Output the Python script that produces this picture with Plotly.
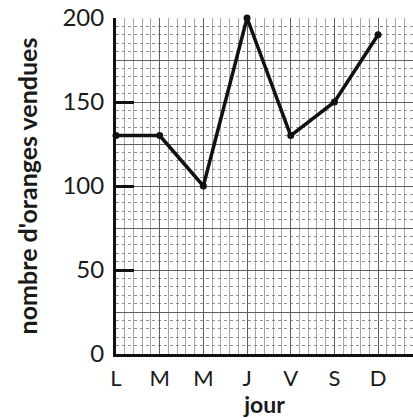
import plotly.graph_objects as go

# Oranges sold per day of the week
jours = ["L", "M", "M", "J", "V", "S", "D"]
ventes = [130, 130, 100, 200, 130, 150, 190]
y_ticks = [0, 50, 100, 150, 200]

positions = list(range(len(jours)))
FONT = "Lato"

fig = go.Figure()
# empty trace so the overlaid grid axis gets drawn
fig.add_trace(go.Scatter(x=[], y=[], yaxis="y2", showlegend=False, hoverinfo="skip"))
fig.add_trace(go.Scatter(
    x=positions, y=ventes, mode="lines+markers",
    line=dict(color="#111111", width=3.5),
    marker=dict(color="#111111", size=7),
    cliponaxis=False, showlegend=False,
))

fig.update_layout(
    width=413, height=418,
    margin=dict(l=116, r=0, t=18, b=64),
    paper_bgcolor="white", plot_bgcolor="white",
    font=dict(family=FONT, color="#1a1a1a"),
    xaxis=dict(
        range=[0, 6.8], tickvals=positions, ticktext=jours,
        tickfont=dict(size=22, family=FONT), ticks="", ticklabelstandoff=3,
        showline=True, linecolor="#111111", linewidth=3,
        showgrid=True, gridcolor="#5e5e5e", gridwidth=1.4,
        minor=dict(dtick=0.2, showgrid=True, gridcolor="#a8a8a8", gridwidth=1),
        zeroline=False,
        title=dict(text="<b>jour</b>", font=dict(size=23, family=FONT), standoff=8),
    ),
    yaxis=dict(
        range=[0, 200], tickvals=y_ticks,
        tickfont=dict(size=24, family=FONT), ticks="inside", ticklen=18,
        tickwidth=2.5, tickcolor="#111111", ticklabelstandoff=4,
        showline=True, linecolor="#111111", linewidth=3,
        showgrid=False, zeroline=False,
        title=dict(text="<b>nombre d'oranges vendues</b>",
                   font=dict(size=25, family=FONT), standoff=18),
    ),
    yaxis2=dict(
        overlaying="y", range=[0, 200], dtick=25,
        showticklabels=False, ticks="", showline=False, zeroline=False,
        showgrid=True, gridcolor="#5e5e5e", gridwidth=1.4,
        minor=dict(dtick=5, showgrid=True, gridcolor="#909090",
                   gridwidth=1, griddash="dot"),
    ),
)

fig.write_html("out.html")
